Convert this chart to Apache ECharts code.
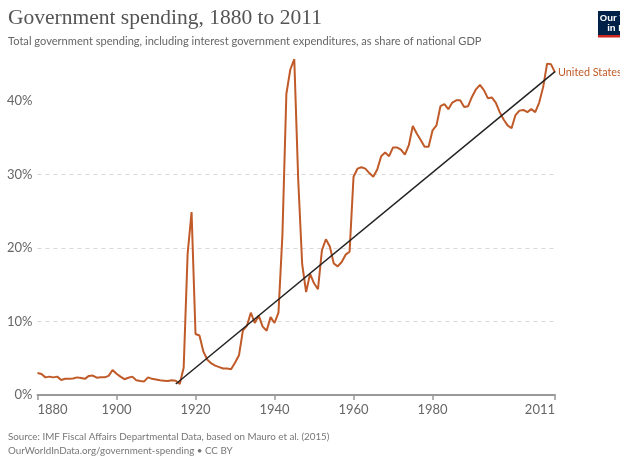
<!DOCTYPE html>
<html>
<head>
<meta charset="utf-8">
<script src="https://cdn.jsdelivr.net/npm/echarts@6/dist/echarts.min.js"></script>
<style>
  html, body { margin: 0; padding: 0; background: #fff; }
  #chart { width: 620px; height: 456px; }
</style>
</head>
<body>
<div id="chart"></div>
<script>
// US total government spending, % of GDP, one value per year from 1880
const startYear = 1880
const spending = [
  3.0, 2.85, 2.4, 2.5, 2.4, 2.5, 2.05, 2.2, 2.2, 2.25, // 1880s
  2.4, 2.3, 2.2, 2.6, 2.65, 2.35, 2.4, 2.4, 2.6, 3.4, // 1890s
  2.9, 2.5, 2.15, 2.35, 2.5, 2.0, 1.9, 1.85, 2.4, 2.2, // 1900s
  2.1, 2.0, 1.95, 1.9, 2.0, 1.95, 1.5, 3.7, 19.2, 24.9, // 1910s
  8.3, 8.1, 5.9, 4.8, 4.3, 4.0, 3.8, 3.6, 3.6, 3.5, // 1920s
  4.4, 5.4, 8.8, 9.4, 11.2, 9.8, 10.8, 9.3, 8.75, 10.6, // 1930s
  9.8, 11.2, 21.8, 41.0, 44.3, 45.7, 29.3, 17.8, 14.0, 16.5, // 1940s
  15.2, 14.4, 19.7, 21.2, 20.2, 17.9, 17.5, 18.1, 19.1, 19.5, // 1950s
  29.7, 30.8, 31.0, 30.8, 30.2, 29.7, 30.7, 32.5, 33.0, 32.5, // 1960s
  33.7, 33.7, 33.4, 32.7, 34.0, 36.6, 35.6, 34.7, 33.8, 33.8, // 1970s
  36.0, 36.7, 39.3, 39.6, 38.9, 39.8, 40.1, 40.1, 39.2, 39.3, // 1980s
  40.6, 41.6, 42.2, 41.5, 40.4, 40.5, 39.8, 38.5, 37.5, 36.7, // 1990s
  36.3, 38.1, 38.7, 38.8, 38.5, 38.9, 38.5, 39.8, 41.9, 45.1, // 2000s
  45.0, 43.9 // 2010s
]
// straight trend line drawn over the series
const trendYears = [1915, 2011]
const trendValues = [1.5, 44.0]

const xTicks = [1880, 1900, 1920, 1940, 1960, 1980, 2011]
const yTicks = [0, 10, 20, 30, 40]

const orange = '#c05a28'
const font = 'Lato, "Noto Sans", sans-serif'

const lineData = spending.map((v, i) => [startYear + i, v])
const trendData = trendYears.map((y, i) => [y, trendValues[i]])

const chart = echarts.init(document.getElementById('chart'))
chart.setOption({
  animation: false,
  backgroundColor: '#fff',
  title: [
    {
      text: 'Government spending, 1880 to 2011',
      left: 8,
      top: 7,
      padding: 0,
      textStyle: { fontFamily: '"Liberation Serif", serif', fontSize: 21.5, fontWeight: 'normal', color: '#555' }
    },
    {
      text: 'Total government spending, including interest government expenditures, as share of national GDP',
      left: 8,
      top: 36,
      padding: 0,
      textStyle: { fontFamily: font, fontSize: 11.1, fontWeight: 'normal', color: '#666' }
    },
    {
      text: 'Source: IMF Fiscal Affairs Departmental Data, based on Mauro et al. (2015)',
      left: 8,
      top: 432,
      padding: 0,
      textStyle: { fontFamily: font, fontSize: 9.8, fontWeight: 'normal', color: '#777' }
    },
    {
      text: 'OurWorldInData.org/government-spending • CC BY',
      left: 8,
      top: 446,
      padding: 0,
      textStyle: { fontFamily: font, fontSize: 9.8, fontWeight: 'normal', color: '#777' }
    }
  ],
  graphic: [
    { type: 'rect', shape: { x: 598, y: 11, width: 50, height: 24 }, style: { fill: '#002147' } },
    { type: 'rect', shape: { x: 598, y: 35, width: 50, height: 2.5 }, style: { fill: '#ce261e' } },
    { type: 'text', x: 623, y: 13, style: { text: 'Our World', fill: '#fff', font: 'bold 9.5px "Liberation Sans", sans-serif', textAlign: 'center' } },
    { type: 'text', x: 623, y: 23, style: { text: 'in Data', fill: '#fff', font: 'bold 9.5px "Liberation Sans", sans-serif', textAlign: 'center' } }
  ],
  grid: { left: 37.5, right: 65, top: 57, bottom: 61 },
  xAxis: {
    type: 'value',
    min: 1880,
    max: 2011,
    splitLine: { show: false },
    axisLine: { show: true, onZero: false, lineStyle: { color: '#999', width: 2 } },
    axisTick: { show: true, length: 5, customValues: xTicks, lineStyle: { color: '#999', width: 1.5 } },
    axisLabel: {
      customValues: xTicks,
      margin: 8,
      fontFamily: font,
      fontSize: 13,
      color: '#666',
      alignMinLabel: 'left',
      alignMaxLabel: 'right',
      formatter: v => String(v)
    }
  },
  yAxis: {
    type: 'value',
    min: 0,
    max: 46,
    interval: 10,
    axisLine: { show: false },
    axisTick: { show: false, customValues: yTicks },
    axisLabel: {
      customValues: yTicks,
      margin: 5,
      fontFamily: font,
      fontSize: 13,
      color: '#666',
      formatter: v => v + '%'
    },
    splitLine: {
      show: true,
      showMinLine: false,
      showMaxLine: false,
      lineStyle: { color: '#d9d9d9', type: [4, 4], width: 1 }
    }
  },
  series: [
    {
      name: 'United States',
      type: 'line',
      data: lineData,
      showSymbol: false,
      lineStyle: { color: orange, width: 2 },
      itemStyle: { color: orange },
      endLabel: {
        show: true,
        formatter: 'United States',
        distance: 3,
        color: orange,
        fontFamily: font,
        fontSize: 10.8
      },
      z: 2
    },
    {
      name: 'trend',
      type: 'line',
      data: trendData,
      showSymbol: false,
      lineStyle: { color: '#222', width: 1.5 },
      z: 3
    }
  ]
})
</script>
</body>
</html>
